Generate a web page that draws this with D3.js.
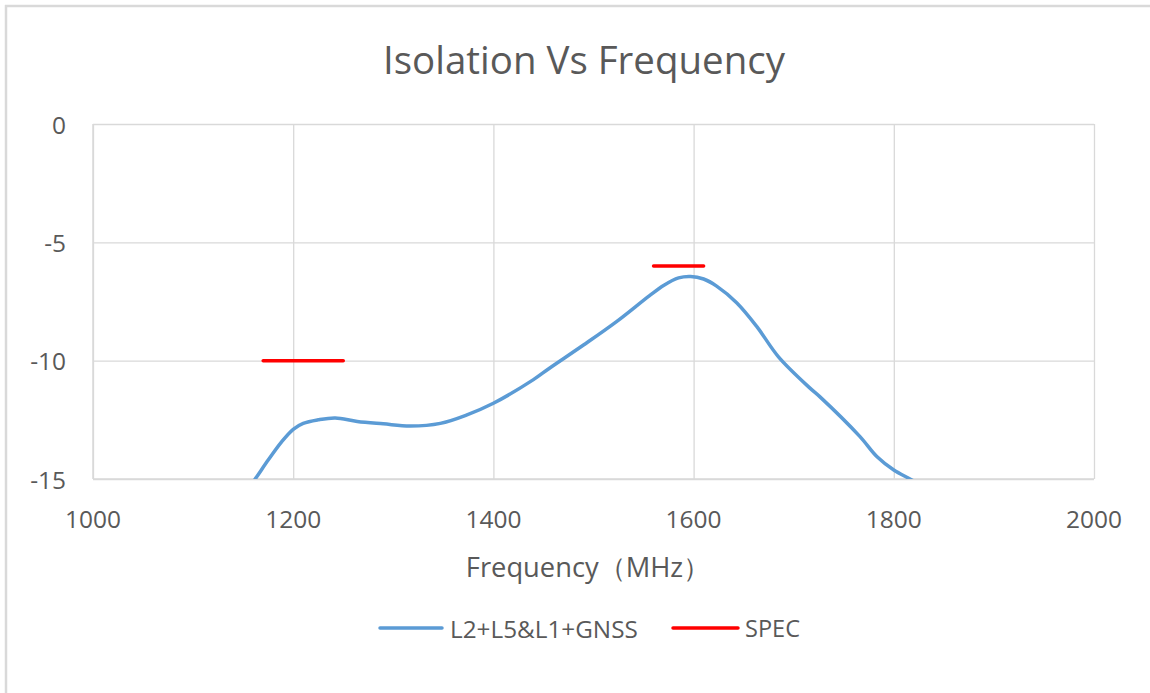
<!DOCTYPE html>
<html><head><meta charset="utf-8">
<script src="https://cdn.jsdelivr.net/npm/d3@7"></script>
<style>html,body{margin:0;padding:0;background:#fff;}svg{display:block;}</style>
</head><body>
<svg id="c" width="1150" height="693"></svg>
<script>
const title = "Isolation Vs Frequency";
const xTitle = "Frequency（MHz）";
const xTicks = [1000, 1200, 1400, 1600, 1800, 2000];
const yTicks = [0, -5, -10, -15];
const seriesName = "L2+L5&L1+GNSS";
const specName = "SPEC";
const freq = [1150, 1162, 1175, 1188, 1200, 1210, 1225, 1242, 1264, 1290, 1317, 1347, 1373, 1400, 1440, 1456, 1490, 1523, 1556, 1570, 1585, 1597, 1610, 1623, 1643, 1663, 1685, 1716, 1726, 1766, 1783, 1800, 1818, 1840];
const isolation = [-15.7, -15.0, -14.2, -13.45, -12.9, -12.65, -12.5, -12.42, -12.57, -12.67, -12.76, -12.65, -12.3, -11.8, -10.8, -10.32, -9.34, -8.35, -7.25, -6.82, -6.5, -6.44, -6.55, -6.85, -7.55, -8.55, -9.85, -11.15, -11.52, -13.2, -14.05, -14.62, -15.04, -15.6];
const specSegments = [
  [[1170, -10], [1250, -10]],
  [[1560, -6], [1610, -6]]
];

(function () {
const svg = d3.select("#c");
const W = 1150, H = 693;
const pL = 93, pR = 1094, pT = 124, pB = 479;
const x = d3.scaleLinear().domain([1000, 2000]).range([pL, pR]);
const y = d3.scaleLinear().domain([-15, 0]).range([pB, pT]);
const font = "'Open Sans', 'Noto Sans', sans-serif";
const txt = "#595959";
const grid = "#d9d9d9";

svg.append("line").attr("x1", 5).attr("x2", W).attr("y1", 6).attr("y2", 6).attr("stroke", grid).attr("stroke-width", 2.5);
svg.append("line").attr("x1", 6).attr("x2", 6).attr("y1", 5).attr("y2", H).attr("stroke", grid).attr("stroke-width", 2.5);

function fit(sel, target) {
  const w = sel.node().getComputedTextLength();
  const fs = parseFloat(sel.attr("font-size"));
  sel.attr("font-size", fs * target / w);
  return sel;
}

svg.append("g").attr("transform", `translate(0,${pB})`)
  .call(d3.axisBottom(x).tickValues(xTicks).tickSize(-(pB - pT)).tickFormat(""))
  .call(g => g.select(".domain").remove())
  .call(g => g.selectAll("line").attr("stroke", grid).attr("stroke-width", 1.3));
svg.append("g").attr("transform", `translate(${pL},0)`)
  .call(d3.axisLeft(y).tickValues(yTicks).tickSize(-(pR - pL)).tickFormat(""))
  .call(g => g.select(".domain").remove())
  .call(g => g.selectAll("line").attr("stroke", grid).attr("stroke-width", 1.3));
svg.append("line").attr("x1", pL).attr("x2", pL).attr("y1", pT).attr("y2", pB).attr("stroke", grid).attr("stroke-width", 1.5);
svg.append("line").attr("x1", pL).attr("x2", pR).attr("y1", pB).attr("y2", pB).attr("stroke", grid).attr("stroke-width", 1.5);

const xl = svg.append("g").selectAll("text").data(xTicks).join("text")
  .attr("x", d => x(d)).attr("y", 518).attr("text-anchor", "middle").attr("dominant-baseline", "central")
  .attr("font-family", font).attr("font-size", 20).attr("fill", txt).text(d => d);
const s0 = 20 * 56 / xl.nodes()[0].getComputedTextLength();
xl.attr("font-size", s0);
svg.append("g").selectAll("text").data(yTicks).join("text")
  .attr("x", 66).attr("y", d => y(d)).attr("text-anchor", "end").attr("dominant-baseline", "central")
  .attr("font-family", font).attr("font-size", s0).attr("fill", txt).text(d => d);

svg.append("clipPath").attr("id", "pc").append("rect").attr("x", pL).attr("y", pT - 5).attr("width", pR - pL).attr("height", pB - pT + 5);

const line = d3.line().x(d => x(d[0])).y(d => y(d[1])).curve(d3.curveCatmullRom.alpha(0.5));
svg.append("path").datum(freq.map((f, i) => [f, isolation[i]]))
  .attr("clip-path", "url(#pc)")
  .attr("d", line).attr("fill", "none").attr("stroke", "#5b9bd5").attr("stroke-width", 3.5).attr("stroke-linejoin", "round");

const sl = d3.line().x(d => x(d[0])).y(d => y(d[1]));
svg.append("g").selectAll("path").data(specSegments).join("path")
  .attr("d", sl).attr("fill", "none").attr("stroke", "#ff0000").attr("stroke-width", 3.5).attr("stroke-linecap", "round");

const t = svg.append("text").attr("x", 584).attr("y", 59).attr("text-anchor", "middle").attr("dominant-baseline", "central")
  .attr("font-family", font).attr("font-size", 30).attr("fill", txt).text(title);
fit(t, 402);

const at = svg.append("text").attr("x", 588).attr("y", 566).attr("text-anchor", "middle").attr("dominant-baseline", "central")
  .attr("font-family", font).attr("font-size", 22).attr("fill", txt).text(xTitle);
fit(at, 245);

const leg = [
  {name: seriesName, color: "#5b9bd5", x1: 380, x2: 442, tx: 450, tw: 188},
  {name: specName, color: "#ff0000", x1: 673, x2: 738, tx: 745, tw: 55}
];
leg.forEach(l => {
  svg.append("line").attr("x1", l.x1).attr("x2", l.x2).attr("y1", 628).attr("y2", 628)
    .attr("stroke", l.color).attr("stroke-width", 3.5).attr("stroke-linecap", "round");
  const tt = svg.append("text").attr("x", l.tx).attr("y", 628).attr("dominant-baseline", "central")
    .attr("font-family", font).attr("font-size", 20).attr("fill", txt).text(l.name);
  fit(tt, l.tw);
});
})();
</script>
</body></html>
